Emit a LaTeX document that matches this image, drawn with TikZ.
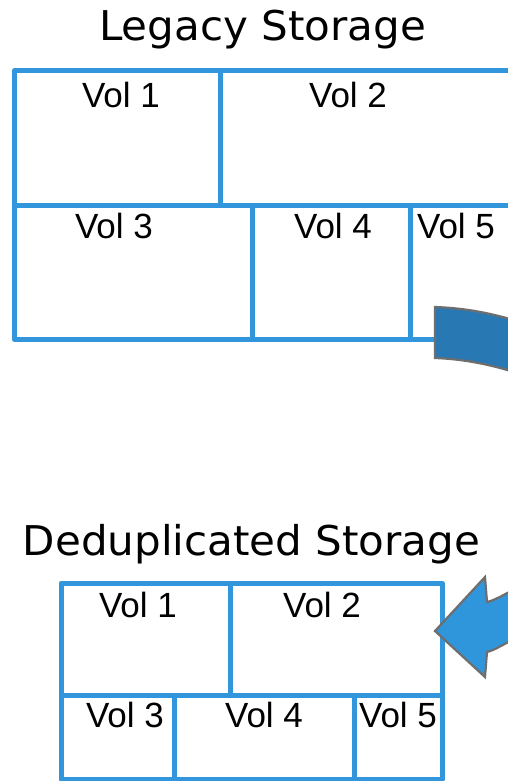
\documentclass[tikz,border=0pt]{standalone}
\usepackage{fontspec}
\setmainfont{Liberation Sans}
\newfontfamily\titlefont[FakeStretch=1.025]{DejaVu Sans}
\definecolor{volblue}{RGB}{50,150,220}
\definecolor{arrowlight}{RGB}{48,150,220}
\definecolor{arrowdark}{RGB}{40,120,180}
\definecolor{arrowgray}{RGB}{110,110,110}
\begin{document}
\begin{tikzpicture}[x=1pt,y=-1pt,
  cell/.style={draw=volblue,line width=5pt,line join=round},
  vol/.style={anchor=base,inner sep=0pt,font=\fontsize{35}{42}\selectfont},
  title/.style={anchor=base,inner sep=0pt,font=\titlefont\fontsize{41}{49}\selectfont},
  arrowpart/.style={draw=arrowgray,line width=2.2pt,line join=miter}]
\useasboundingbox (0,0) rectangle (508,781);
\clip (0,0) rectangle (508,781);

% titles
\node[title] (legacy) at (262.5,41) {Legacy Storage};
\node[title] (dedup) at (251.5,555) {Deduplicated Storage};

% legacy storage volumes
\draw[cell] (530,71) -- (14,71) -- (14,339) -- (530,339);
\draw[cell] (14,205) -- (530,205);
\draw[cell] (220,71) -- (220,205);
\draw[cell] (252,205) -- (252,339);
\draw[cell] (410,205) -- (410,339);
\node[vol] (l1) at (121,108) {Vol 1};
\node[vol] (l2) at (348,108) {Vol 2};
\node[vol] (l3) at (114,238) {Vol 3};
\node[vol] (l4) at (333,238) {Vol 4};
\node[vol] (l5) at (456,238) {Vol 5};

% deduplicated storage volumes
\draw[cell] (61,583) rectangle (442,779);
\draw[cell] (61,695) -- (442,695);
\draw[cell] (230,583) -- (230,695);
\draw[cell] (174,695) -- (174,779);
\draw[cell] (354,695) -- (354,779);
\node[vol] (d1) at (138,617) {Vol 1};
\node[vol] (d2) at (322,617) {Vol 2};
\node[vol] (d3) at (125,727) {Vol 3};
\node[vol] (d4) at (264,727) {Vol 4};
\node[vol] (d5) at (398,727) {Vol 5};

% curved arrow: upper band (shaded back face)
\path[arrowpart,fill=arrowdark]
  (435,307) .. controls (462,308) and (488,312) .. (520,322)
  -- (520,374)
  .. controls (490,364) and (462,359) .. (435,358) -- cycle;

% curved arrow: lower part with head
\path[arrowpart,fill=arrowlight]
  (435,631) -- (485,577) -- (487,602)
  .. controls (495,600) and (502,596) .. (520,586)
  -- (520,636)
  .. controls (502,645) and (495,650) .. (487,652)
  -- (485,677) -- cycle;
\end{tikzpicture}
\end{document}
